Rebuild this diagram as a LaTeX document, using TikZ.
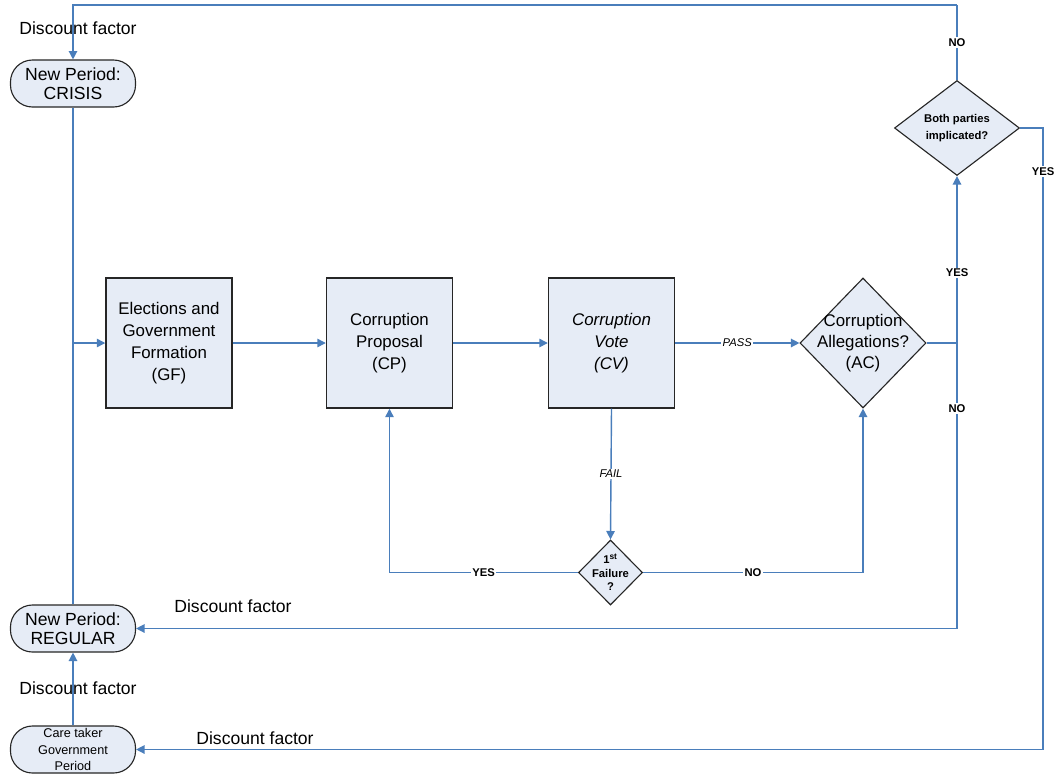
\documentclass[tikz,border=0pt]{standalone}
\usepackage{fontspec}
\setmainfont{Liberation Sans}
\usetikzlibrary{shapes.geometric,arrows.meta}
\definecolor{flowblue}{HTML}{4A7EBB}
\definecolor{boxfill}{HTML}{E6ECF6}
\begin{document}
\begin{tikzpicture}[x=0.025cm,y=-0.025cm,
    box/.style={draw=black!85,line width=1pt,fill=boxfill,minimum width=3.15cm,minimum height=3.25cm,align=center,font=\fontsize{12}{15.5}\selectfont},
    decision/.style={draw=black!85,line width=0.8pt,fill=boxfill,diamond,inner sep=0pt},
    period/.style={draw=black!85,line width=0.8pt,fill=boxfill,rounded corners=0.55cm,minimum width=3.125cm,minimum height=1.175cm,align=center,inner sep=0pt},
    flow/.style={draw=flowblue,line width=1pt},
    arrow/.style={flow,-{Triangle[length=6pt,width=6pt]}},
    yn/.style={fill=white,inner sep=1pt,font=\bfseries\fontsize{8}{9}\selectfont},
    note/.style={font=\fontsize{12.5}{14}\selectfont}]
            \useasboundingbox (0,0) rectangle (1060,779);
            % periods on the left
            \node[period,font=\fontsize{12.5}{13.5}\selectfont] (crisis) at (73,83.5) {New Period:\\CRISIS};
            \node[period,font=\fontsize{12.5}{13.5}\selectfont] (regular) at (73,628.5) {New Period:\\REGULAR};
            \node[period,font=\fontsize{9}{12}\selectfont] (caretaker) at (73,749.5) {Care taker\\Government\\Period};

            % main stages
            \node[box] (gf) at (169,343) {Elections and\\Government\\Formation\\(GF)};
            \node[box] (cp) at (389.5,343) {Corruption\\Proposal\\(CP)};
            \node[box,font=\itshape\fontsize{12}{15.5}\selectfont] (cv) at (611.5,343) {Corruption\\Vote\\(CV)};
            \node[decision,minimum width=3.15cm,minimum height=3.25cm] (ac) at (863,343) {};
            \node[align=center,font=\fontsize{12}{15}\selectfont] (ac-txt) at (ac) {Corruption\\Allegations?\\(AC)};
            \node[decision,minimum width=3.125cm,minimum height=2.375cm] (both) at (957,128) {};
            \node[align=center,font=\bfseries\fontsize{8}{12}\selectfont] (both-txt) at (both) {Both parties\\implicated?};
            \node[decision,minimum width=1.6cm,minimum height=1.625cm] (fail) at (610.5,572.5) {};
            \node[align=center,font=\bfseries\fontsize{8}{9.5}\selectfont] (fail-txt) at (fail) {1\textsuperscript{st}\\Failure\\?};

            \coordinate (join) at (73,343);
            \coordinate (split) at (957,343);
            \coordinate (topR) at (957,5);
            \coordinate (noR) at (957,628.5);
            \coordinate (yesR) at (1043,128);
            \coordinate (yesB) at (1043,749.5);

            % connectors
            \draw[flow] (crisis.south) -- (join);
            \draw[flow] (regular.north) -- (join);
            \draw[arrow] (join) -- (gf.west);
            \draw[arrow] (gf.east) -- (cp.west);
            \draw[arrow] (cp.east) -- (cv.west);
            \draw[arrow] (cv.east) -- node[yn,font=\itshape\fontsize{8}{9}\selectfont]{PASS} (ac.west);
            \draw[flow] (ac.east) -- (split);
            \draw[arrow] (split) -- node[yn,pos=0.42]{YES} (both.south);
            \draw[flow] (split) -- node[yn,pos=0.23]{NO} (noR);
            \draw[arrow] (noR) -- (regular.east);
            \draw[flow] (both.north) -- node[yn]{NO} (topR);
            \draw[arrow] (topR) -| (crisis.north);
            \draw[flow] (both.east) -- (yesR) -- node[yn,pos=0.07]{YES} (yesB);
            \draw[arrow] (yesB) -- (caretaker.east);
            \draw[arrow] (cv.south) -- node[yn,font=\itshape\fontsize{8}{9}\selectfont]{FAIL} (fail.north);
            \draw[arrow] (fail.west) -- node[yn]{YES} (fail.west -| cp.south) -- (cp.south);
            \draw[arrow] (fail.east) -- node[yn]{NO} (fail.east -| ac.south) -- (ac.south);
            \draw[arrow] (caretaker.north) -- (regular.south);

            % discount labels
            \node[note] (df-top) at (78,28) {Discount factor};
            \node[note] (df-reg) at (233,606) {Discount factor};
            \node[note] (df-care) at (78,688) {Discount factor};
            \node[note] (df-low) at (255,738) {Discount factor};
\end{tikzpicture}
\end{document}
